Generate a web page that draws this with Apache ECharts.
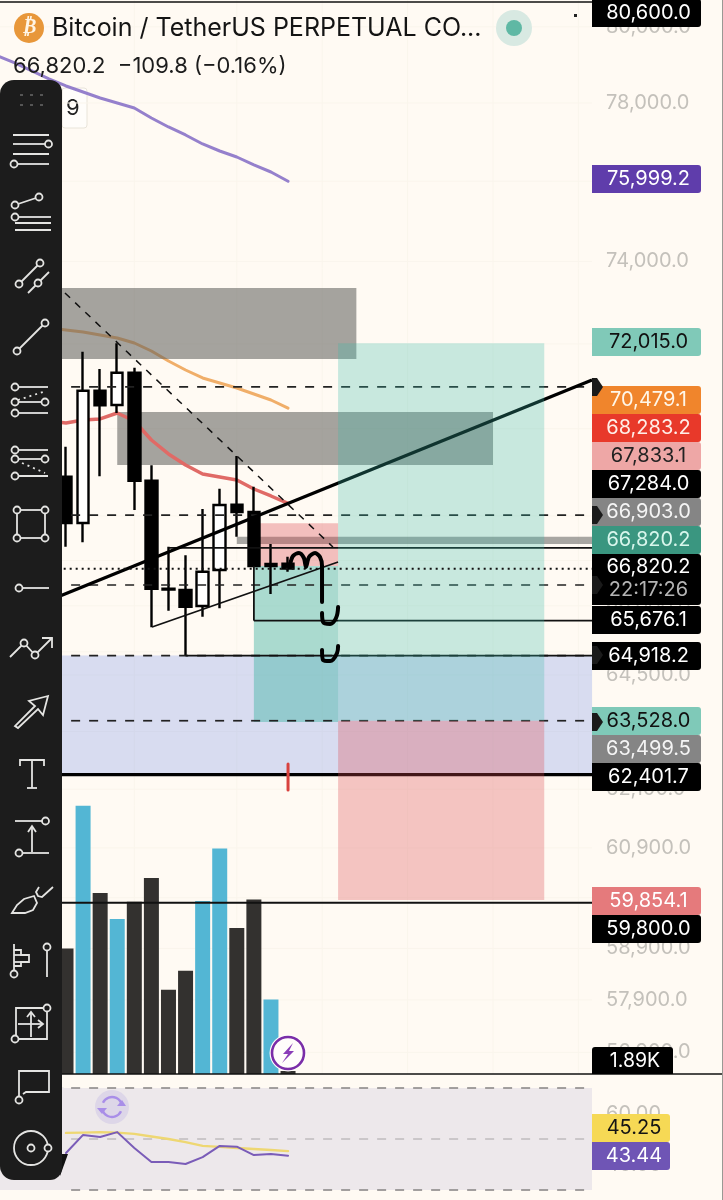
<!DOCTYPE html>
<html><head><meta charset="utf-8">
<style>html,body{margin:0;padding:0;background:#fffaf3}#c{width:723px;height:1200px}</style>
<script src="https://cdn.jsdelivr.net/npm/echarts@6/dist/echarts.min.js"></script>
</head><body><div id="c"></div>
<script>
// ---------- DATA ----------
// candle index 0..13, [open, close, low, high]
const candles = [
 [68893,67842,67309,69583],[67842,70890,67408,71815],[70890,70547,68902,71403],[70554,71315,70367,72015],
 [71315,68802,68135,71434],[68802,66376,65531,69154],[66376,66360,65893,67309],[66348,65981,64918.2,67117],
 [65997,66752,65763,68158],[66790,68248,65946,68618],[68255,68089,67533,69369],[68089,66879,66879,68664],
 [66880,66924,66260,67369],[66930,66820.2,66752,67086]];
const volumes = [79,169,114,97.6,108.5,123.5,53,65,109,142,92,110,47,1.89];
const purpleMA = [79228,79044,78834,78625,78442,78285,78130,78000,77870,77612,77381,77176,76945,76766,76613,76410,76232,75999.2]; // from index -4
const orangeMA = [72382,72333,72286,72214,72142,72022,71831,71593,71379,71190,71072,70954,70812,70671,70479.1]; // from index -1
const redMA = [70180,70134,70203,70227,70366,70180,69738,69415,69161,68954,68886,68818,68612,68453,68283.2]; // from index -1
const rsiLine = [44.5,51.6,50.8,52.7,46.5,41,41,40.2,42.9,47.3,47,43.7,44.1,43.44];
const rsiMA = [52.4,52.5,52.7,52.5,52,51,50,48.8,47.3,46.9,46.5,46.1,45.7,45.25];
const priceTicks = [80000,78000,76000,74000,72000,70000,68000,67000,66000,65000,64500,63300,62100,60900,59900,58900,57900,56900];
const rsiTicks = [60,40];
const rsiBands = [70,50,30];
const gridCols = [4,10,15,20,25,30];
// zones: [x0, price top, x1, price bottom]
const greyZones = [[-4,73350,17,71641],[3,70390,25,69161]];
const stripZone = [[10,67533,30.8,67369]];
const blueZone = [[-4,64918.2,30.8,62401.7]];
const longBig = [[15.93,72015,28,63528]];
const shortBig = [[15.93,63528,28,59854.1]];
const longSmall = [[11,66879,15.93,63499.5]];
const shortSmall = [[11,67833.1,15.93,66879]];
// lines: [x0, p0, x1, p1]
const dashedLevels = [[0.3,70978,30.8,70978],[0.3,68021,30.8,68021],[0.3,66458,30.8,66458],[0.3,64918.2,30.8,64918.2],[0.3,63528,30.8,63528]];
const solidLevels = [[6,67284,30.8,67284],[11,65676.1,30.8,65676.1],[7,64918.2,30.8,64918.2],[11,66879,11,65676.1],[5.04,65537,15.93,66968],[-4,59800,30.8,59800]];
const heavyLevels = [[-4,62401.7,30.8,62401.7],[-0.35,66216,30.8,71142]];
const diagonal = [[-0.06,73229,15.63,67302]];
const lastPrice = [[-4,66820.2,30.8,66820.2]];
const redTick = [[13,62621,13,62083]];
const penM = [[13.11,66901],[13.29,67102],[13.64,67169],[13.93,67057],[14.05,66857],[14.23,67079],[14.58,67169],[14.87,67079],[14.99,66879],[14.99,66084]];
const penHookA = [[14.99,65843],[15.05,65646],[15.46,65603],[15.81,65734],[15.93,65975]];
const penHookB = [[14.99,65039],[15.05,64823],[15.46,64801],[15.87,64974],[15.93,65125]];
// text
const titleText = 'Bitcoin / TetherUS PERPETUAL CO...';
const quoteText = '66,820.2  \u2212109.8 (\u22120.16%)';
const tagLabels = ['80,600.0','75,999.2','72,015.0','70,479.1','68,283.2','67,833.1','67,284.0','66,903.0','66,820.2','65,676.1','64,918.2','63,528.0','63,499.5','62,401.7','59,854.1','59,800.0'];
const countdown = ['66,820.2','22:17:26'];
const volTag = '1.89K';
const rsiTags = ['45.25','43.44'];

// ---------- STYLE / LAYOUT ----------
const BG='#fffaf3', PX=17.08, X0=66, PLOT=592;
const xMin=-X0/PX, xMax=(PLOT-X0)/PX;
const priceMax=80715, priceMin=56493;
const tagCY=[13,179,342,400,428,456,484,512,540,620,656,721,749,777,901,929];
const tagBG=['#000','#5f3dab','#80c9b8','#f0852c','#e8392a','#eea7a6','#000','#858585','#3a9680','#000','#000','#7fc9b8','#858585','#000','#e57a7c','#000'];
const tagFG=['#fff','#fff','#111','#fff6e8','#ffeee8','#222','#fff','#f4f4f4','#d8f6ec','#fff','#fff','#111','#f4f4f4','#fff','#fff','#fff'];
const FONT='Inter, "Noto Sans", sans-serif';
const fmtP=v=>(Math.round(v/100)*100).toLocaleString('en-US',{minimumFractionDigits:1});

const rectSeries=(name,data,fill,z)=>({name,type:'custom',xAxisIndex:0,yAxisIndex:0,z,silent:true,clip:false,
  encode:{x:[0,2],y:[1,3]},data,animation:false,
  renderItem:(p,api)=>{const a=api.coord([api.value(0),api.value(1)]),b=api.coord([api.value(2),api.value(3)]);
    return {type:'rect',shape:{x:a[0],y:a[1],width:b[0]-a[0],height:b[1]-a[1]},style:{fill}};}});
const segSeries=(name,data,stroke,lineWidth,lineDash,z,cap,g=0,ya=0)=>({name,type:'custom',xAxisIndex:g,yAxisIndex:ya,z,silent:true,clip:false,
  encode:{x:[0,2],y:[1,3]},data,animation:false,
  renderItem:(p,api)=>{const a=api.coord([api.value(0),api.value(1)]),b=api.coord([api.value(2),api.value(3)]);
    return {type:'line',shape:{x1:a[0],y1:a[1],x2:b[0],y2:b[1]},style:{stroke,lineWidth,lineDash,lineCap:cap||'butt'}};}});
const lineSeries=(name,data,color,width,z,opts={})=>Object.assign({name,type:'line',data,showSymbol:false,symbol:'none',silent:true,animation:false,z,
  lineStyle:{color,width,cap:'round',join:'round'}},opts);
const from=(arr,s)=>arr.map((v,k)=>[k+s,v]);

const series=[
 segSeries('gridV',gridCols.map(c=>[c,priceMax,c,priceMin]),'#faf5ec',1,null,1),
 segSeries('gridH',priceTicks.map(t=>[xMin,t,xMax,t]),'#faf5ec',1,null,1),
 {name:'Volume',type:'bar',xAxisIndex:0,yAxisIndex:1,barWidth:15,z:2,animation:false,silent:true,
  data:volumes.map((v,i)=>({value:[i,v],itemStyle:{color:candles[i][1]>=candles[i][0]?'#53b6d4':'#33312f'}}))},
 rectSeries('blue',blueZone,'rgba(100,130,230,0.25)',3),
 lineSeries('MA orange',from(orangeMA,-1),'#f0ae69',3,3),
 rectSeries('grey',greyZones,'rgba(96,96,94,0.57)',4),
 rectSeries('strip',stripZone,'rgba(96,96,94,0.55)',4),
 lineSeries('MA purple',from(purpleMA,-4),'#9580cc',3,5),
 lineSeries('MA red',from(redMA,-1),'#e06a66',3.5,5),
 rectSeries('longSmall',longSmall,'rgba(67,179,163,0.45)',5),
 rectSeries('shortSmall',shortSmall,'rgba(218,73,80,0.33)',5),
 {name:'Price',type:'candlestick',xAxisIndex:0,yAxisIndex:0,barWidth:12,z:6,animation:false,silent:true,
  data:candles.map((c,i)=>({value:[i,c[0],c[1],c[2],c[3]]})),
  encode:{x:0,y:[1,2,3,4]},
  itemStyle:{color:'#fff',color0:'#000',borderColor:'#000',borderColor0:'#000',borderWidth:2.4}},
 segSeries('dashed',dashedLevels,'#222',1.7,[9,9],7),
 segSeries('solid',solidLevels,'#111',1.8,null,7),
 segSeries('heavy',heavyLevels,'#000',3.4,null,7),
 segSeries('diag',diagonal,'#111',1.5,[7,7],7),
 rectSeries('longBig',longBig,'rgba(58,186,168,0.28)',8),
 rectSeries('shortBig',shortBig,'rgba(218,73,80,0.3)',8),
 segSeries('last',lastPrice,'#111',2,[2,4],9),
 segSeries('redTick',redTick,'#d8423e',3,null,9,'round'),
 lineSeries('pen m',penM,'#000',4,12,{smooth:0.3}),
 lineSeries('pen a',penHookA,'#000',4,12,{smooth:0.4}),
 lineSeries('pen b',penHookB,'#000',4,12,{smooth:0.4}),
 // RSI pane
 {name:'band',type:'custom',xAxisIndex:1,yAxisIndex:2,z:1,silent:true,clip:false,animation:false,encode:{x:[0,2],y:[1,3]},
  data:[[xMin,rsiBands[0],xMax,rsiBands[2]]],
  renderItem:(p,api)=>{const a=api.coord([api.value(0),api.value(1)]),b=api.coord([api.value(2),api.value(3)]);
    return {type:'rect',shape:{x:a[0],y:a[1],width:b[0]-a[0],height:b[1]-a[1]},style:{fill:'#ede8eb'}};}},
 segSeries('rsi hi',[[0.3,rsiBands[0],30.8,rsiBands[0]],[0.3,rsiBands[2],30.8,rsiBands[2]]],'#8d8a8a',1.6,[9,9],2,null,1,2),
 segSeries('rsi mid',[[0.3,rsiBands[1],30.8,rsiBands[1]]],'#c2bec1',1.6,[9,9],2,null,1,2),
 lineSeries('RSI MA',from(rsiMA,0),'#eed772',2.4,3,{xAxisIndex:1,yAxisIndex:2}),
 lineSeries('RSI',from(rsiLine,0),'#7a5cb8',2,4,{xAxisIndex:1,yAxisIndex:2})
];

// ---------- GRAPHIC (chrome) ----------
const els=[];
const ic='#e4e4e2', TB='#1c1c1c';
const add=o=>{els.push(o);return o;};
const T=(text,x,y,font,fill,z=60,align='left')=>add({type:'text',z,style:{text,x,y,font,fill,align,verticalAlign:'middle'}});
const R=(x,y,w,h,fill,r=0,z=50,stroke)=>add({type:'rect',z,shape:{x,y,width:w,height:h,r},style:{fill,stroke}});
const Ln=(x1,y1,x2,y2,lw=1.8,stroke=ic,z=102,dash)=>add({type:'line',z,shape:{x1,y1,x2,y2},style:{stroke,lineWidth:lw,lineDash:dash}});
const Ci=(cx,cy,r=3.5,stroke=ic,fill=TB,z=103,lw=1.8)=>add({type:'circle',z,shape:{cx,cy,r},style:{stroke,fill,lineWidth:lw}});
const Pl=(points,stroke=ic,lw=1.8,z=102,closed=false,fill,smooth)=>add({type:closed?'polygon':'polyline',z,shape:{points,smooth},style:{stroke,lineWidth:lw,fill:closed?(fill||TB):null}});

// frame
Ln(0,2,592,2,1.6,'#111',40);
Ln(0,1074,723,1074,1.6,'#111',40);
Ln(722.5,0,722.5,1200,1,'#9a9894',40);
R(62,88,25,40,'#fffdfa',3,1,'#e9e4da');
T('9',66,108,'22px '+FONT,'#222',1);
R(55,1088,11,38,'#f4f0f0',3,1,'#e2dfdf');
// header
Ci(29,28,15,'#e8973a','#e8973a',60,0);
T('\u20bf',29,28,'italic bold 20px "DejaVu Sans"','#fff5e6',61,'center');
T(titleText,52,28,'25px '+FONT,'#141414');
T(quoteText,13,66,'22px '+FONT,'#1c1c1c');
Ci(514,28,18,'#d8e9e2','#d8e9e2',60,0);
Ci(514,28,8,'#5fb8a4','#5fb8a4',61,0);
R(574,14,3,3,'#222');
// price tags
tagLabels.forEach((t,i)=>{
  R(592,tagCY[i]-14,109,28,tagBG[i],[0,3,3,0],50);
  T(t,648.5,tagCY[i],'20px '+FONT,tagFG[i],60,'center');
});
R(592,554,109,51,'#000',[0,3,3,0],50);
T(countdown[0],648.5,567,'20px '+FONT,'#fff',60,'center');
T(countdown[1],648.5,590,'20px '+FONT,'#b4b4b4',60,'center');
R(592,1047,81,27,'#000',[3,3,0,0],50);
T(volTag,635,1061,'19.5px '+FONT,'#fff',60,'center');
R(592,1114,78,28,'#f6d955',[0,3,3,0],50);
T(rsiTags[0],634,1128,'20px '+FONT,'#141414',60,'center');
R(592,1142,78,28,'#6f55b5',[0,3,3,0],50);
T(rsiTags[1],634,1156,'20px '+FONT,'#fff',60,'center');
// tag pointers
[387,515,585,655,722].forEach(y=>add({type:'polygon',z:55,shape:{points:[[592,y-9],[597,y-9],[603,y],[597,y+9],[592,y+9]]},style:{fill:'#1a1a1a'}}));
// lightning & refresh badges
Ci(288,1053,18.5,'#fffdfb','#fffdfb',30,0);
Ci(288,1053,16,'#7a2da8','#fffdfb',31,2.6);
add({type:'polygon',z:32,shape:{points:[[293,1043],[283,1054],[288,1054],[282,1063],[294,1051],[289,1051]]},style:{fill:'#8a3db8'}});
Ci(112,1107,17,'#ddd6e8','#ddd6e8',30,0);
add({type:'arc',z:31,shape:{cx:112,cy:1107,r:10,startAngle:-2.7,endAngle:-0.2},style:{stroke:'#a98ee8',lineWidth:2.4,fill:null}});
add({type:'arc',z:31,shape:{cx:112,cy:1107,r:10,startAngle:0.45,endAngle:2.9},style:{stroke:'#a98ee8',lineWidth:2.4,fill:null}});
add({type:'polygon',z:31,shape:{points:[[117,1106],[126,1106],[122,1100]]},style:{fill:'#a98ee8'}});
add({type:'polygon',z:31,shape:{points:[[97,1108],[107,1108],[102,1114]]},style:{fill:'#a98ee8'}});
// toolbar
R(0,80,62,1100,TB,[14,12,12,14],100);
add({type:'polygon',z:99,shape:{points:[[60,1154],[68,1154],[60,1176]]},style:{fill:'#111'}});
[21,31,41].forEach(x=>[95,105].forEach(y=>R(x-1,y-1,3,2,'#555',0,102)));
// 1
Ln(13,135,49,135);Ln(13,144,45,144);Ci(48.5,144);Ln(13,154,49,154);Ln(18,164,49,164);Ci(14,164);
// 2
Ln(15,205,39,197);Ci(39,197);Ci(15,205);Ci(15,217);Ln(19,217,51,217);Ln(15,223,51,223);Ln(15,230,51,230);
// 3
Ln(19,284,40,263);Ln(28,293,49,272);Ci(40,263);Ci(19,284);Ci(38,283);
// 4
Ln(17,351,45,323);Ci(45,323);Ci(17,351);
// 5
Ci(15,387);Ln(19,387,48,387);Ln(18,400,46,391,1.8,ic,102,[2,4]);Ln(19,402,41,402);Ci(15,402);Ci(45,402);Ln(19,413,48,413);Ci(15,413);
// 6
Ln(19,450,48,450);Ci(15,450);Ln(19,459,41,459);Ci(15,459);Ci(45,459);Ln(22,463,45,473,1.8,ic,102,[2,4]);Ln(19,476,48,476,2);Ci(15,476);
// 7
Ln(17,510,45,510);Ln(17,538,45,538);Ln(17,510,17,538);Ln(45,510,45,538);Ci(17,510);Ci(45,510);Ci(17,538);Ci(45,538);
// 8
Ci(19,588);Ln(23,588,49,588);
// 9
Pl([[10,657],[24,643],[35,655],[52,638]]);Ci(24,643);Ci(35,655);Pl([[42,638],[52,638],[52,648]]);
// 10
Pl([[48,696],[29,701],[35,706],[15,726],[18,728],[38,709],[43,715]],ic,1.8,102,true);
// 11
Pl([[20,766],[20,760],[44,760],[44,766]]);Ln(32,760,32,788);Ln(27,788,37,788);
// 12
Ln(15,821,42,821);Ci(45.5,821);Ln(32,827,32,852);Pl([[28,832],[32,826],[36,832]]);Ln(22,853,49,853);Ci(19,853);
// 13
Pl([[12,913],[17,905],[24,899],[34,896],[37,903],[33,910],[25,913]],ic,1.8,102,true,TB);
Pl([[39,887],[36,892],[38,896],[42,897],[53,887]]);
// 14
Ln(14,944,14,972);Pl([[14,950],[21,950],[21,955],[29,955],[29,962],[21,962],[21,966],[14,966]]);Ln(14,955,21,955);Ln(14,962,21,962);Ci(14,974);Ln(47,950,47,977);Ci(47,947);
// 15
Pl([[44,1008],[16,1008],[16,1036]]);Pl([[47,1011],[47,1039],[19,1039]]);Ci(47,1008);Ci(15,1039);Ln(31,1012,31,1037);Pl([[27,1017],[31,1012],[35,1017]]);Ln(18,1024,43,1024);Pl([[38,1020],[43,1024],[38,1028]]);
// 16
Pl([[23,1094],[26,1092],[49,1092],[49,1071],[19,1071],[19,1096]]);Ci(19,1100);
// 17
Ci(31,1148,17,ic,TB,102);Ci(31,1148,3.5);Ci(48,1148);

const option={
 backgroundColor:BG,animation:false,
 graphic:{elements:els},
 grid:[{left:0,top:0,width:PLOT,height:1074},{left:0,top:1075,width:PLOT,height:125}],
 xAxis:[0,1].map(g=>({type:'value',gridIndex:g,min:xMin,max:xMax,show:false,splitLine:{show:false}})),
 yAxis:[
  {type:'log',gridIndex:0,min:priceMin,max:priceMax,position:'right',
   axisLine:{show:false},axisTick:{show:false},splitLine:{show:false},
   axisLabel:{customValues:priceTicks,margin:14,color:'#c4c1bb',fontFamily:FONT,fontSize:20,padding:[0,0,6,0],formatter:fmtP}},
  {type:'value',gridIndex:0,min:0,max:676.6,show:false,splitLine:{show:false}},
  {type:'value',gridIndex:1,min:26.08,max:75.1,position:'right',
   axisLine:{show:false},axisTick:{show:false},splitLine:{show:false},
   axisLabel:{customValues:rsiTicks,margin:14,color:'#c4c1bb',fontFamily:FONT,fontSize:20,formatter:v=>v.toFixed(2)}}
 ],
 series
};
const chart=echarts.init(document.getElementById('c'),null,{renderer:'canvas'});
chart.setOption(option);
</script>
</body></html>
